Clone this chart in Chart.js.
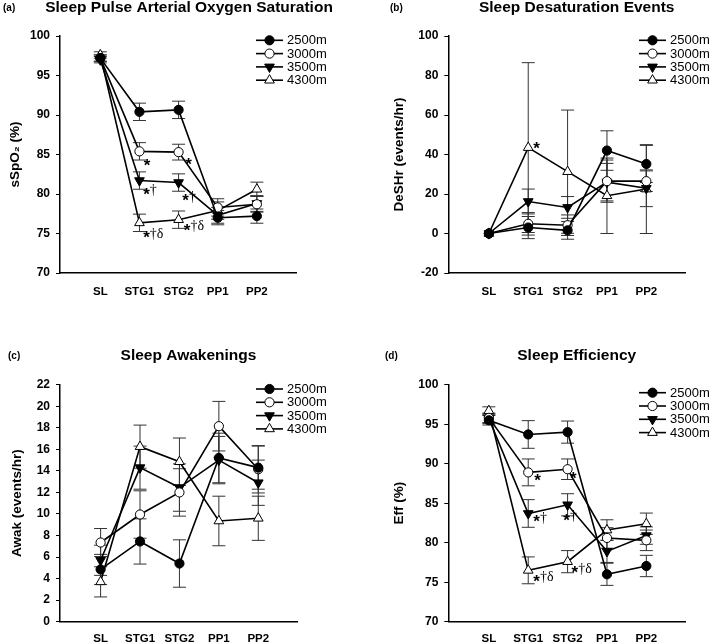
<!DOCTYPE html>
<html>
<head>
<meta charset="utf-8">
<script src="https://cdn.jsdelivr.net/npm/chart.js@4.4.1/dist/chart.umd.min.js"></script>
<style>
html,body{margin:0;padding:0;background:#fff;}
#wrap{position:relative;width:709px;height:642px;overflow:hidden;}
canvas{position:absolute;}
</style>
</head>
<body>
<div id="wrap">
<canvas id="cA" width="354" height="321" style="left:0;top:0"></canvas>
<canvas id="cB" width="355" height="321" style="left:354px;top:0"></canvas>
<canvas id="cC" width="354" height="321" style="left:0;top:321px"></canvas>
<canvas id="cD" width="355" height="321" style="left:354px;top:321px"></canvas>
</div>
<script>
const stages = ["SL", "STG1", "STG2", "PP1", "PP2"];
const altitudes = ["2500m", "3000m", "3500m", "4300m"];

// (a) sleep SpO2, %  (rows = altitudes)
const spo2Mean = [
  [97.2, 90.4, 90.65, 77.0, 77.2],
  [97.2, 85.4, 85.3, 78.3, 78.7],
  [97.0, 81.7, 81.45, 77.3, 78.8],
  [97.6, 76.35, 76.75, 77.9, 80.6]
];
const spo2Err = [
  [0.4, 1.1, 1.1, 0.9, 0.9],
  [0.4, 1.1, 1.0, 1.1, 1.0],
  [0.4, 1.1, 1.1, 1.0, 1.0],
  [0.4, 1.1, 1.1, 1.1, 0.9]
];

// (b) desaturation events/hr
const deshrMean = [
  [0, 3.0, 1.6, 42.0, 35.2],
  [0, 4.9, 4.2, 26.5, 26.5],
  [0, 16.2, 13.2, 26.0, 22.9],
  [0, 43.5, 31.3, 19.1, 22.5]
];
const deshrErr = [
  [0, 5.6, 4.5, 10.0, 9.4],
  [0, 5.7, 5.2, 10.7, 5.2],
  [0, 6.3, 5.5, 9.5, 9.3],
  [0, 43.0, 31.2, 19.1, 22.5]
];

// (c) awakenings/hr
const awakMean = [
  [4.85, 7.45, 5.4, 15.2, 14.3],
  [7.35, 9.95, 12.0, 18.15, 14.15],
  [5.7, 14.3, 12.45, 15.0, 12.9],
  [3.7, 16.25, 14.85, 9.35, 9.6]
];
const awakErr = [
  [1.4, 2.1, 2.2, 2.3, 2.0],
  [1.3, 2.2, 2.2, 2.3, 2.2],
  [1.4, 2.0, 2.2, 2.2, 2.1],
  [1.4, 2.0, 2.2, 2.3, 2.05]
];

// (d) sleep efficiency, %
const effMean = [
  [95.5, 93.7, 94.0, 76.0, 77.05],
  [95.8, 88.9, 89.3, 80.6, 80.3],
  [95.7, 83.7, 84.8, 78.9, 80.9],
  [96.7, 76.5, 77.6, 81.6, 82.4]
];
const effErr = [
  [0.6, 1.75, 1.4, 1.4, 1.35],
  [0.6, 1.7, 1.3, 1.3, 1.3],
  [0.6, 1.75, 1.4, 1.4, 1.1],
  [0.5, 1.7, 1.4, 1.3, 1.35]
];

// significance marks: [series, stage, text, dx, dy]
const spo2Marks = [[1,1,"*",7.7,10.4],[1,2,"*",10,9],[2,1,"*†",7,10],[2,2,"*†",7,14.5],[3,1,"*†δ",7,11],[3,2,"*†δ",8.5,7]];
const deshrMarks = [[3,1,"*",8.4,-2.6]];
const awakMarks = [];
const effMarks = [[1,1,"*",9.4,4.6],[1,2,"*",5.6,5.8],[2,1,"*†",8.4,4.8],[2,2,"*†",-1,12],[3,1,"*†δ",8.4,7.3],[3,2,"*†δ",7.3,7.6]];

const FONT = "'Liberation Sans', Arial, sans-serif";
Chart.defaults.font.family = FONT;
Chart.defaults.color = "#000";

const markers = [
  {pointStyle: "circle", bg: "#000", r: 4.6, rot: 0},
  {pointStyle: "circle", bg: "#fff", r: 4.6, rot: 0},
  {pointStyle: "triangle", bg: "#000", r: 5.6, rot: 180},
  {pointStyle: "triangle", bg: "#fff", r: 5.6, rot: 0}
];

const errorBars = {
  id: "errorBars",
  beforeDatasetsDraw(chart) {
    const ctx = chart.ctx, y = chart.scales.y;
    ctx.save();
    ctx.strokeStyle = "#333";
    ctx.lineWidth = 1;
    chart.data.datasets.forEach((ds, di) => {
      const meta = chart.getDatasetMeta(di);
      ds.err.forEach((e, i) => {
        if (!e) return;
        const x = meta.data[i].x, m = ds.data[i].y;
        const yt = y.getPixelForValue(m + e), yb = y.getPixelForValue(m - e);
        ctx.beginPath();
        ctx.moveTo(x, yt); ctx.lineTo(x, yb);
        ctx.moveTo(x - 6.5, yt); ctx.lineTo(x + 6.5, yt);
        ctx.moveTo(x - 6.5, yb); ctx.lineTo(x + 6.5, yb);
        ctx.stroke();
      });
    });
    ctx.restore();
  }
};

const overlay = {
  id: "overlay",
  afterDraw(chart, args, o) {
    const ctx = chart.ctx;
    ctx.save();
    // title + panel letter
    ctx.fillStyle = "#000";
    ctx.textBaseline = "alphabetic";
    ctx.textAlign = "center";
    ctx.font = "bold 15.5px " + FONT;
    ctx.fillText(o.title, o.titleX, o.titleY);
    ctx.textAlign = "left";
    ctx.font = "bold 10px " + FONT;
    ctx.fillText(o.letter, o.letterX, o.titleY - 1);

    // legend
    const lg = o.legend;
    chart.data.datasets.forEach((ds, i) => {
      const ly = lg.y + i * 13.3;
      ctx.strokeStyle = "#000";
      ctx.lineWidth = 1.6;
      ctx.beginPath();
      ctx.moveTo(lg.x, ly); ctx.lineTo(lg.x + 27, ly);
      ctx.stroke();
      ctx.fillStyle = ds.pointBackgroundColor;
      ctx.strokeStyle = "#000";
      ctx.lineWidth = 1;
      Chart.helpers.drawPoint(ctx, {pointStyle: ds.pointStyle, radius: ds.pointRadius, rotation: ds.pointRotation, borderWidth: 1}, lg.x + 13.5, ly);
      ctx.fillStyle = "#000";
      ctx.font = "13px " + FONT;
      ctx.textBaseline = "middle";
      ctx.fillText(ds.label, lg.x + 31, ly + 0.5);
    });

    // significance marks
    o.marks.forEach(([s, p, txt, dx, dy]) => {
      const pt = chart.getDatasetMeta(s).data[p];
      const x = pt.x + dx, y = pt.y + dy;
      ctx.textBaseline = "middle";
      ctx.textAlign = "center";
      ctx.font = "bold 17px " + FONT;
      ctx.fillText("*", x, y + 4.3);
      const w = ctx.measureText("*").width;
      if (txt.length > 1) {
        ctx.textAlign = "left";
        ctx.font = "14px 'Liberation Serif', serif";
        ctx.fillText(txt.slice(1), x + w / 2, y);
      }
    });
    ctx.restore();
  }
};

function makePanel(id, cfg) {
  const datasets = altitudes.map((name, k) => ({
    label: name,
    data: cfg.mean[k].map((v, i) => ({x: i, y: v})),
    err: cfg.err[k],
    borderColor: "#000",
    borderWidth: 1.6,
    pointStyle: markers[k].pointStyle,
    pointRadius: markers[k].r,
    pointRotation: markers[k].rot,
    pointBackgroundColor: markers[k].bg,
    pointBorderColor: "#000",
    pointBorderWidth: 1,
    tension: 0,
    fill: false
  }));
  new Chart(document.getElementById(id), {
    type: "line",
    data: {datasets},
    plugins: [errorBars, overlay],
    options: {
      responsive: false,
      animation: false,
      events: [],
      layout: {padding: cfg.pad},
      plugins: {
        legend: {display: false},
        tooltip: {enabled: false},
        overlay: {title: cfg.title, titleX: cfg.titleX, titleY: cfg.titleY, letter: cfg.letter, letterX: cfg.letterX, legend: cfg.legend, marks: cfg.marks}
      },
      scales: {
        x: {
          type: "linear",
          min: -1.03, max: 5,
          afterBuildTicks: s => { s.ticks = stages.map((_, i) => ({value: i})); },
          afterFit: s => { s.height = cfg.xh; },
          ticks: {callback: v => stages[v], font: {size: 11.5, weight: "bold"}, padding: cfg.xPad, autoSkip: false, maxRotation: 0},
          grid: {display: false},
          border: {color: "#000", width: 1.5}
        },
        y: {
          min: cfg.yMin, max: cfg.yMax,
          afterFit: s => { s.width = cfg.yw; },
          ticks: {stepSize: cfg.yStep, font: {size: 12, weight: "bold"}, padding: 6},
          grid: {drawOnChartArea: false, drawTicks: true, tickLength: 4, color: "#000"},
          border: {color: "#000", width: 1.5},
          title: {display: true, text: cfg.yTitle, font: {size: 13.5, weight: "bold"}, padding: {top: 4, bottom: 0}}
        }
      }
    }
  });
}

makePanel("cA", {
  mean: spo2Mean, err: spo2Err, marks: spo2Marks,
  yMin: 70, yMax: 100, yStep: 5, yTitle: "sSpO₂ (%)",
  title: "Sleep Pulse Arterial Oxygen Saturation", titleX: 189, titleY: 11.6, letter: "(a)", letterX: 3,
  pad: {left: 3, right: 58, top: 36, bottom: 8}, yw: 57, xh: 40, xPad: 3.7,
  legend: {x: 256, y: 40.3}
});
makePanel("cB", {
  mean: deshrMean, err: deshrErr, marks: deshrMarks,
  yMin: -20, yMax: 100, yStep: 20, yTitle: "DeSHr (events/hr)",
  title: "Sleep Desaturation Events", titleX: 222.7, titleY: 11.6, letter: "(b)", letterX: 36,
  pad: {left: 33, right: 23.3, top: 36, bottom: 8}, yw: 61.3, xh: 40, xPad: 3.7,
  legend: {x: 285, y: 40.3}
});
makePanel("cC", {
  mean: awakMean, err: awakErr, marks: awakMarks,
  yMin: 0, yMax: 22, yStep: 2, yTitle: "Awak (events/hr)",
  title: "Sleep Awakenings", titleX: 188.5, titleY: 38.9, letter: "(c)", letterX: 8,
  pad: {left: 5, right: 56.3, top: 63.7, bottom: 0}, yw: 55, xh: 20.3, xPad: 2,
  legend: {x: 256, y: 68}
});
makePanel("cD", {
  mean: effMean, err: effErr, marks: effMarks,
  yMin: 70, yMax: 100, yStep: 5, yTitle: "Eff (%)",
  title: "Sleep Efficiency", titleX: 222.7, titleY: 38.9, letter: "(d)", letterX: 31,
  pad: {left: 33, right: 23.3, top: 63.7, bottom: 0}, yw: 61.3, xh: 20.3, xPad: 2,
  legend: {x: 285, y: 71.7}
});
</script>
</body>
</html>
